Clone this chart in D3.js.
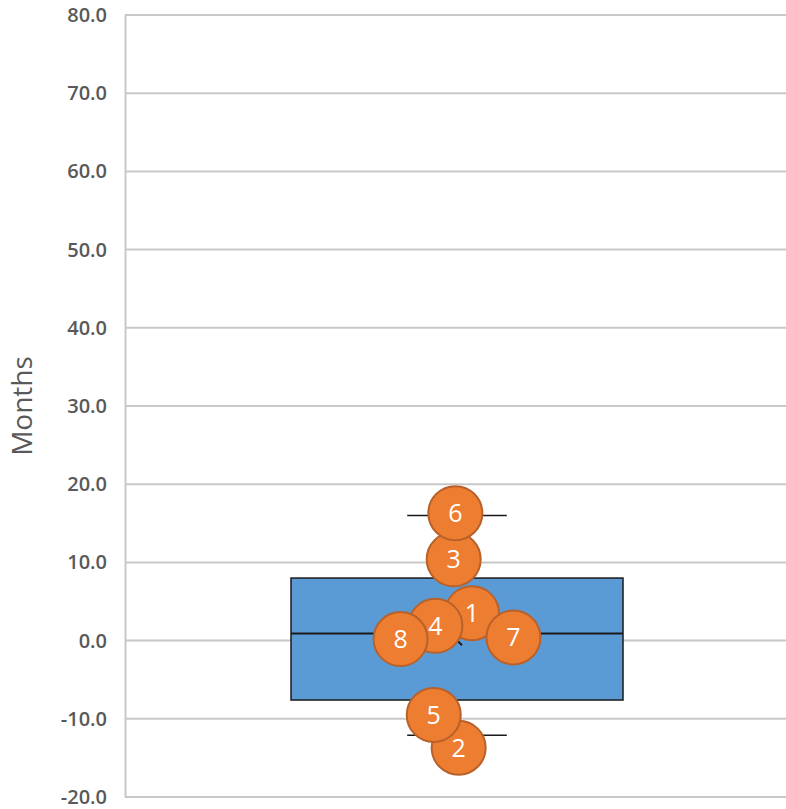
<!DOCTYPE html>
<html>
<head>
<meta charset="utf-8">
<script src="https://cdn.jsdelivr.net/npm/d3@7"></script>
<style>
  html, body { margin: 0; padding: 0; background: #ffffff; }
  svg { display: block; }
</style>
</head>
<body>
<svg id="chart" width="786" height="809"></svg>
<script>
// Y axis ticks (months)
const yTicks = [-20, -10, 0, 10, 20, 30, 40, 50, 60, 70, 80];

// Box-and-whisker summary
const boxStats = { q1: -7.6, median: 0.9, q3: 8.0, whiskerLow: -12.1, whiskerHigh: 16.0, mean: 0.05 };

// Individual observations: label, jittered x position, value in months
const pointLabels = ["1", "2", "3", "4", "5", "6", "7", "8"];
const pointX      = [1.045, 1.005, 0.99, 0.935, 0.93, 0.995, 1.17, 0.83];
const pointValues = [3.5, -13.7, 10.4, 1.9, -9.5, 16.3, 0.4, 0.2];

const svg = d3.select("#chart");
const plotLeft = 125, plotRight = 789, plotTop = 15, plotBottom = 797;

const y = d3.scaleLinear().domain([-20, 80]).range([plotBottom, plotTop]);
const x = d3.scaleLinear().domain([0, 2]).range([plotLeft, plotRight]);

// Horizontal gridlines
svg.append("g")
  .selectAll("line")
  .data(yTicks)
  .join("line")
  .attr("x1", plotLeft).attr("x2", 786)
  .attr("y1", d => y(d)).attr("y2", d => y(d))
  .attr("stroke", "#c8c8c8")
  .attr("stroke-width", 2);

// Y axis: one decimal, plain hyphen for negatives
const fmt = d3.format(".1f");
const yAxis = d3.axisLeft(y)
  .tickValues(yTicks)
  .tickFormat(d => fmt(d).replace("\u2212", "-"))
  .tickSize(0)
  .tickPadding(18);

const gy = svg.append("g")
  .attr("transform", `translate(${plotLeft},0)`)
  .call(yAxis);
gy.select(".domain").attr("stroke", "#c8c8c8").attr("stroke-width", 2);
gy.selectAll("text")
  .attr("fill", "#595959")
  .style("font-family", "'Open Sans', 'Liberation Sans', Arial, sans-serif")
  .style("font-size", "20px")
  .style("font-weight", "600");

// Axis title
svg.append("text")
  .attr("transform", `translate(32,${(plotTop + plotBottom) / 2}) rotate(-90)`)
  .attr("text-anchor", "middle")
  .attr("fill", "#595959")
  .style("font-family", "'Open Sans', 'Liberation Sans', Arial, sans-serif")
  .style("font-size", "28px")
  .text("Months");

// Box plot
const bx = 1.0, halfW = 0.5, capHalf = 0.15;
const gb = svg.append("g");

// Whiskers
[[boxStats.q3, boxStats.whiskerHigh], [boxStats.q1, boxStats.whiskerLow]].forEach(([a, b]) => {
  gb.append("line")
    .attr("x1", x(bx)).attr("x2", x(bx))
    .attr("y1", y(a)).attr("y2", y(b))
    .attr("stroke", "#1a1a1a").attr("stroke-width", 1.5);
  gb.append("line")
    .attr("x1", x(bx - capHalf)).attr("x2", x(bx + capHalf))
    .attr("y1", y(b)).attr("y2", y(b))
    .attr("stroke", "#1a1a1a").attr("stroke-width", 1.5);
});

gb.append("rect")
  .attr("x", x(bx - halfW))
  .attr("y", y(boxStats.q3))
  .attr("width", x(bx + halfW) - x(bx - halfW))
  .attr("height", y(boxStats.q1) - y(boxStats.q3))
  .attr("fill", "#5b9bd5")
  .attr("stroke", "#1a1a1a")
  .attr("stroke-width", 1.5);

gb.append("line")
  .attr("x1", x(bx - halfW)).attr("x2", x(bx + halfW))
  .attr("y1", y(boxStats.median)).attr("y2", y(boxStats.median))
  .attr("stroke", "#1a1a1a").attr("stroke-width", 2);

// Mean marker
const mx = x(bx), my = y(boxStats.mean), ms = 5;
gb.append("path")
  .attr("d", `M${mx - ms},${my - ms}L${mx + ms},${my + ms}M${mx - ms},${my + ms}L${mx + ms},${my - ms}`)
  .attr("stroke", "#1a1a1a").attr("stroke-width", 2);

// Observation markers
const points = pointLabels.map((lab, i) => ({ lab, xv: pointX[i], v: pointValues[i] }));
const gp = svg.append("g")
  .selectAll("g")
  .data(points)
  .join("g")
  .attr("transform", d => `translate(${x(d.xv)},${y(d.v)})`);

gp.append("circle")
  .attr("r", 27)
  .attr("fill", "#ed7d31")
  .attr("stroke", "#b8612a")
  .attr("stroke-width", 2);

gp.append("text")
  .attr("text-anchor", "middle")
  .attr("dy", "0.36em")
  .attr("fill", "#ffffff")
  .style("font-family", "'Open Sans', 'Liberation Sans', Arial, sans-serif")
  .style("font-size", "25px")
  .text(d => d.lab);
</script>
</body>
</html>
